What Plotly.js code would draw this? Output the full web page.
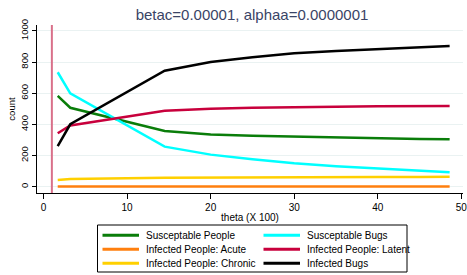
<!DOCTYPE html>
<html><head><meta charset="utf-8">
<script src="https://cdn.plot.ly/plotly-3.0.1.min.js"></script>
<style>html,body{margin:0;padding:0;background:#fff}#c{width:467px;height:275px}</style>
</head><body><div id="c"></div>
<script>
const theta = [1.7, 3.2, 14.5, 20, 25, 30, 35, 40, 45, 48.6];
const susPeople = [583, 507, 358, 336, 327, 321, 316, 312, 307, 304];
const susBugs = [735, 600, 257, 206, 176, 150, 132, 118, 102, 92];
const infAcute = [2, 2, 2, 2, 2, 2, 2, 2, 2, 2];
const infLatent = [343, 393, 488, 501, 507, 512, 514, 516, 517, 518];
const infChronic = [43, 49, 58, 60, 61, 62, 62, 63, 63, 64];
const infBugs = [261, 401, 745, 801, 832, 857, 872, 884, 896, 904];
const refLineX = 1;
const xTicks = [0, 10, 20, 30, 40, 50];
const yTicks = [0, 200, 400, 600, 800, 1000];
const names = ["Susceptable People","Susceptable Bugs","Infected People: Acute","Infected People: Latent","Infected People: Chronic","Infected Bugs"];
const series = [susPeople, susBugs, infAcute, infLatent, infChronic, infBugs];
const colors = ["#0a7d0a","#00ffff","#ff7f0e","#c8003c","#ffd000","#000000"];

// plot-area geometry (px)
const M = {l:37, r:4, t:25, b:82};
const W = 467, H = 275;
const pw = W - M.l - M.r, ph = H - M.t - M.b;
const px2x = p => (p - M.l) / pw;
const py2y = p => (H - M.b - p) / ph;

const traces = series.map((s,i)=>({x:theta,y:s,name:names[i],type:'scatter',mode:'lines',line:{color:colors[i],width:2.5},showlegend:false}));

// manual legend (2 columns, row-major)
const legShapes = [{type:'rect',xref:'paper',yref:'paper',x0:px2x(97.5),x1:px2x(407),y0:py2y(225),y1:py2y(272),line:{color:'#000',width:1},fillcolor:'#fff',layer:'above'}];
const legAnn = [];
const colLine = [[102.5,139],[263.5,300]];
const colText = [144.5,305.5];
const rowY = [235.3,249.3,263.3];
names.forEach((n,i)=>{
  const c = i%2, r = Math.floor(i/2);
  legShapes.push({type:'line',xref:'paper',yref:'paper',x0:px2x(colLine[c][0]),x1:px2x(colLine[c][1]),y0:py2y(rowY[r]),y1:py2y(rowY[r]),line:{color:colors[i],width:3},layer:'above'});
  legAnn.push({text:n,xref:'paper',yref:'paper',x:px2x(colText[c]),y:py2y(rowY[r]),xanchor:'left',yanchor:'middle',showarrow:false,font:{size:10,color:'#000'},borderpad:0});
});

const layout = {
  width:W,height:H,
  margin:{l:M.l,r:M.r,t:M.t,b:M.b,autoexpand:false},
  paper_bgcolor:'#fff',plot_bgcolor:'#fff',
  font:{family:'Liberation Sans, Arial, sans-serif',size:10,color:'#000'},
  title:{text:'betac=0.00001, alphaa=0.0000001',font:{size:15,color:'#3a4466'},x:252/467,xanchor:'center',y:1-15/275,yanchor:'middle'},
  xaxis:{range:[-0.78,50.2],tickvals:xTicks,showgrid:false,zeroline:false,showline:true,linecolor:'#000',linewidth:1,ticks:'outside',ticklen:5,tickcolor:'#000',ticklabeloverflow:'allow',tickfont:{size:10},
    title:{text:'theta (X 100)',font:{size:10},standoff:1}},
  yaxis:{range:[-40.5,1038.5],tickvals:yTicks,tickangle:-90,showgrid:true,gridcolor:'#eaf2f2',gridwidth:1,zeroline:false,showline:true,linecolor:'#000',linewidth:1,ticks:'outside',ticklen:4,tickcolor:'#000',tickfont:{size:9.5},
    title:{text:'count',font:{size:9.5},standoff:1}},
  shapes:[{type:'line',xref:'x',yref:'paper',x0:refLineX,x1:refLineX,y0:0,y1:1,line:{color:'#d9708a',width:2}}].concat(legShapes),
  annotations:legAnn,
  showlegend:false
};
Plotly.newPlot('c',traces,layout,{staticPlot:true});
</script></body></html>
